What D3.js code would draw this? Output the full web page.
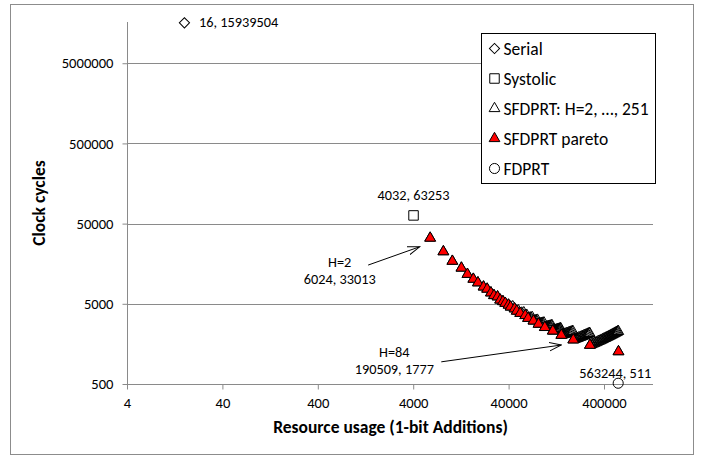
<!DOCTYPE html>
<html>
<head>
<meta charset="utf-8">
<script src="https://cdn.jsdelivr.net/npm/d3@7"></script>
<style>
  html, body { margin: 0; padding: 0; background: #fff; }
  svg text { font-family: Carlito, Calibri, Lato, sans-serif; fill: #000; }
</style>
</head>
<body>
<svg id="chart" width="701" height="455"></svg>
<script>
// ---------------- DATA ----------------
const xTickValues = [4, 40, 400, 4000, 40000, 400000];
const yTickValues = [500, 5000, 50000, 500000, 5000000];

const serialRes = [16];
const serialCycles = [15939504];

const systolicRes = [4032];
const systolicCycles = [63253];

// SFDPRT: H = 2, ..., 251 (sampled across the dense bands)
const sfdprtH = [2,3,4,5,6,7,8,9,10,11,12,13,14,15,16,17,18,19,20,21,22,23,24,25,26,27,28,29,30,31,32,33,34,35,36,37,38,39,40,41,42,43,44,45,46,47,48,49,50,51,52,53,54,55,56,57,58,59,60,61,62,
  63,65,67,69,71,73,75,77,79,81,83,
  84,87,90,93,96,99,102,105,108,111,114,117,120,123,125,
  126,131,136,141,146,151,156,161,166,171,176,181,186,191,196,201,206,211,216,221,226,231,236,241,246,250,251];
const sfdprtRes = [6024,8283,10291,12801,14809,17068,19076,21837,23845,26104,28112,30622,32630,34889,36897,39909,41917,44176,46184,48694,50702,52961,54969,57730,59738,61997,64005,66515,68523,70782,72790,76053,78061,80320,82328,84838,86846,89105,91113,93874,95882,98141,100149,102659,104667,106926,108934,111946,113954,116213,118221,120731,122739,124998,127006,129767,131775,134034,136042,138552,140560,
  142819,148341,152608,157126,161393,166162,170429,174947,179214,184234,188501,
  190509,197286,204063,210840,217115,224645,231171,238199,244474,251251,258279,265056,271331,278359,282877,
  284885,297184,307977,319523,330818,341862,352906,364954,375747,387042,397835,409632,420676,431720,443517,455063,465856,477402,488195,499741,511287,522331,533375,545172,555965,565001,567260];
const sfdprtCycles = [33013,22346,17012,13974,11679,10155,9151,8124,7640,6857,6346,6116,5584,5339,5088,4832,4569,4611,4339,4061,4097,3810,3843,3876,3577,3607,3299,3326,3353,3380,3057,3082,3106,3130,2792,2813,2834,2855,2876,2897,2538,2556,2574,2592,2610,2628,2646,2664,2682,2293,2308,2323,2338,2353,2368,2383,2398,2413,2428,2443,2458,
  2030,2055,2079,2103,2127,2151,2175,2199,2223,2247,2271,
  1777,1804,1831,1858,1885,1912,1939,1966,1993,2020,2047,2074,2101,2128,2146,
  1523,1554,1584,1614,1644,1674,1704,1734,1764,1794,1824,1854,1884,1914,1944,1974,2004,2034,2064,2094,2124,2154,2184,2214,2244,2268,1267];

const paretoRes = [6024,8283,10291,12801,14809,17068,19076,21837,23845,26104,28112,30622,32630,34889,36897,39909,41917,46184,48694,52961,59738,64005,72790,82328,95882,116213,142819,190509,284885,567260];
const paretoCycles = [33013,22346,17012,13974,11679,10155,9151,8124,7640,6857,6346,6116,5584,5339,5088,4832,4569,4339,4061,3810,3577,3299,3057,2792,2538,2293,2030,1777,1523,1267];

const fdprtRes = [563244];
const fdprtCycles = [511];

const legendLabels = ["Serial", "Systolic", "SFDPRT: H=2, \u2026, 251", "SFDPRT pareto", "FDPRT"];
const xTitle = "Resource usage (1-bit Additions)";
const yTitle = "Clock cycles";

// ---------------- LAYOUT ----------------
const svg = d3.select("#chart");
const plot = { left: 127, right: 653, top: 22, bottom: 384 };
const gridColor = "#8a8a8a";
const tickFont = "14.6px";
const lblSize = "14.3px";

const x = d3.scaleLog().domain([4, 1.305e6]).range([plot.left, plot.right]);
const y = d3.scaleLog().domain([500, 1.633e7]).range([plot.bottom, plot.top]);

// chart-area border
svg.append("rect").attr("x", 10.5).attr("y", 4.5).attr("width", 683).attr("height", 450)
  .attr("fill", "#fff").attr("stroke", "#8c8c8c").attr("stroke-width", 1);

// gridlines
svg.append("g").selectAll("line").data(yTickValues.slice(1)).join("line")
  .attr("x1", plot.left).attr("x2", plot.right)
  .attr("y1", d => Math.round(y(d)) + 0.5).attr("y2", d => Math.round(y(d)) + 0.5)
  .attr("stroke", gridColor).attr("stroke-width", 1);

// axes
const fmt = d3.format("d");
const xAxis = svg.append("g").attr("transform", `translate(0,${Math.round(plot.bottom) + 0.5})`)
  .call(d3.axisBottom(x).tickValues(xTickValues).tickFormat(fmt).tickSize(5).tickPadding(8).tickSizeOuter(0));
const yAxis = svg.append("g").attr("transform", `translate(${plot.left + 0.5},0)`)
  .call(d3.axisLeft(y).tickValues(yTickValues).tickFormat(fmt).tickSize(5).tickPadding(9).tickSizeOuter(0));
[xAxis, yAxis].forEach(g => {
  g.select(".domain").attr("stroke", gridColor);
  g.selectAll(".tick line").attr("stroke", gridColor);
  g.selectAll(".tick text").style("font-size", tickFont).style("font-family", "Carlito, Calibri, Lato, sans-serif").attr("fill", "#000");
});
xAxis.select(".domain").attr("d", `M${plot.left},0H${plot.right}`);
yAxis.select(".domain").attr("d", `M0,${plot.top}V${plot.bottom}`);

// axis titles
svg.append("text").attr("x", (plot.left + plot.right) / 2 + 0.5).attr("y", 433)
  .attr("text-anchor", "middle").style("font-size", "17.5px").style("font-weight", "bold").text(xTitle);
svg.append("text").attr("transform", `translate(45,203) rotate(-90)`)
  .attr("text-anchor", "middle").style("font-size", "17.5px").style("font-weight", "bold").text(yTitle);

// ---------------- MARKERS ----------------
const sym = {
  diamond: d3.symbol().type(d3.symbolSquare).size(52)(),
  square: d3.symbol().type(d3.symbolSquare).size(90)(),
  triangle: d3.symbol().type(d3.symbolTriangle).size(50)(),
  circle: d3.symbol().type(d3.symbolCircle).size(80)()
};
function drawSeries(xs, ys, path, fill, rot) {
  svg.append("g").selectAll("path").data(xs.map((v, i) => [v, ys[i]])).join("path")
    .attr("d", path)
    .attr("transform", d => `translate(${x(d[0])},${y(d[1])})` + (rot ? " rotate(45)" : ""))
    .attr("fill", fill).attr("stroke", "#000").attr("stroke-width", 1);
}
drawSeries(serialRes, serialCycles, sym.diamond, "none", true);
drawSeries(systolicRes, systolicCycles, sym.square, "none", false);
drawSeries(sfdprtRes, sfdprtCycles, sym.triangle, "none", false);
drawSeries(paretoRes, paretoCycles, sym.triangle, "#ff0000", false);
drawSeries(fdprtRes, fdprtCycles, sym.circle, "none", false);

// ---------------- DATA LABELS ----------------
svg.append("text").attr("x", x(serialRes[0]) + 14.5).attr("y", y(serialCycles[0]) + 4.5)
  .style("font-size", lblSize).text(`${serialRes[0]}, ${serialCycles[0]}`);
svg.append("text").attr("x", x(systolicRes[0])).attr("y", y(systolicCycles[0]) - 15.5)
  .attr("text-anchor", "middle").style("font-size", lblSize).text(`${systolicRes[0]}, ${systolicCycles[0]}`);
svg.append("text").attr("x", x(fdprtRes[0]) - 3).attr("y", y(fdprtCycles[0]) - 5)
  .attr("text-anchor", "middle").style("font-size", lblSize).text(`${fdprtRes[0]}, ${fdprtCycles[0]}`);

// annotations with arrows
const defs = svg.append("defs");
defs.append("marker").attr("id", "arrow").attr("viewBox", "0 0 13 10")
  .attr("refX", 12).attr("refY", 5).attr("markerWidth", 13).attr("markerHeight", 10)
  .attr("markerUnits", "userSpaceOnUse").attr("orient", "auto")
  .append("path").attr("d", "M0,0.8L12,5L0,9.2").attr("fill", "none").attr("stroke", "#000").attr("stroke-width", 1);

function annotate(i, labelDx, labelDy, x1, y1, x2, y2) {
  const px = x(paretoRes[i]), py = y(paretoCycles[i]);
  svg.append("text").attr("text-anchor", "middle").style("font-size", lblSize)
    .attr("x", px + labelDx).attr("y", py + labelDy)
    .text(`H=${sfdprtH[sfdprtRes.indexOf(paretoRes[i])]}`);
  svg.append("text").attr("text-anchor", "middle").style("font-size", lblSize)
    .attr("x", px + labelDx).attr("y", py + labelDy + 17.5)
    .text(`${paretoRes[i]}, ${paretoCycles[i]}`);
  svg.append("line").attr("x1", px + x1).attr("y1", py + y1).attr("x2", px + x2).attr("y2", py + y2)
    .attr("stroke", "#000").attr("stroke-width", 1).attr("marker-end", "url(#arrow)");
}
annotate(0, -90.5, 28.5, -62, 27, -10.5, 8.7);
const i84 = paretoRes.indexOf(190509);
annotate(i84, -179, 17, -132, 22, -12, 5.2);

// ---------------- LEGEND ----------------
const lg = svg.append("g");
lg.append("rect").attr("x", 481.5).attr("y", 33.5).attr("width", 174).attr("height", 150)
  .attr("fill", "#fff").attr("stroke", "#000").attr("stroke-width", 1);
const legSyms = [[sym.diamond, "none", true], [sym.square, "none", false], [sym.triangle, "none", false], [sym.triangle, "#ff0000", false], [sym.circle, "none", false]];
legendLabels.forEach((lab, i) => {
  const cy = 48.5 + i * 30;
  lg.append("path").attr("d", legSyms[i][0])
    .attr("transform", `translate(494.5,${cy})` + (legSyms[i][2] ? " rotate(45)" : ""))
    .attr("fill", legSyms[i][1]).attr("stroke", "#000").attr("stroke-width", 1);
  lg.append("text").attr("x", 503.5).attr("y", cy + 6).style("font-size", "17.5px").text(lab);
});
</script>
</body>
</html>
